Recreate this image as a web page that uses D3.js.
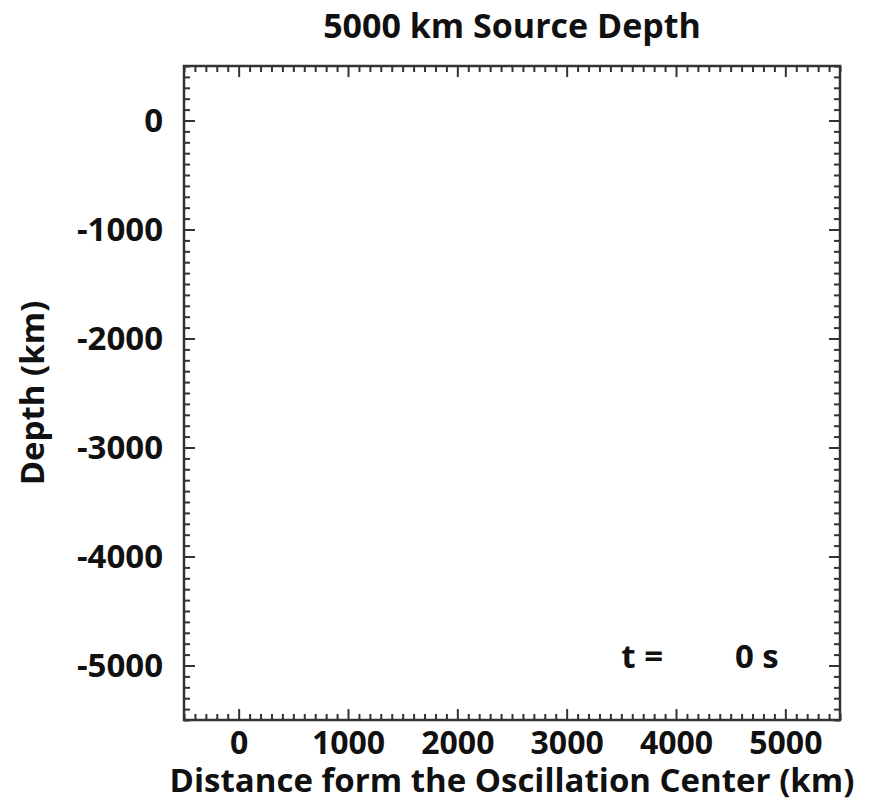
<!DOCTYPE html>
<html lang="en">
<head>
    <meta charset="UTF-8">
    <title>5000 km Source Depth</title>
    <style>
        body { margin: 0; background: #fff; }
        svg text { font-family: "Open Sans", "Noto Sans", sans-serif; font-weight: bold; fill: #111; }
        .axis path { display: none; }
        .axis line { stroke: #333; stroke-width: 2; }
    </style>
</head>
<body>

<script src="https://d3js.org/d3.v7.min.js"></script>
<script>
    // axis settings
    var xDomain = [-500, 5500],
        yDomain = [-5500, 500];
    var xMajor = [0, 1000, 2000, 3000, 4000, 5000];
    var yMajor = [0, -1000, -2000, -3000, -4000, -5000];
    var minorStep = 100;

    var titleText = '5000 km Source Depth',
        xLabel = 'Distance form the Oscillation Center (km)',
        yLabel = 'Depth (km)',
        timeLabel = 't =',
        timeValue = '0 s';

    var W = 872, H = 802;
    var margin = {top: 66, right: 32, bottom: 82, left: 184},
        width = W - margin.left - margin.right,
        height = H - margin.top - margin.bottom;

    var x = d3.scaleLinear().domain(xDomain).range([0, width]);
    var y = d3.scaleLinear().domain(yDomain).range([height, 0]);

    var xMinor = d3.range(xDomain[0], xDomain[1] + 1, minorStep).filter(function(d) { return xMajor.indexOf(d) < 0; });
    var yMinor = d3.range(yDomain[0], yDomain[1] + 1, minorStep).filter(function(d) { return yMajor.indexOf(d) < 0; });

    // plain hyphen for negatives, like the original
    var fmt = function(d) { return String(d); };

    var svg = d3.select('body')
                .append('svg')
                .attr('width', W)
                .attr('height', H)
              .append('g')
                .attr('transform', `translate(${margin.left}, ${margin.top})`);

    var major = 11, minor = 6;

    // bottom + top
    svg.append('g').attr('class', 'axis')
        .attr('transform', `translate(0, ${height})`)
        .call(d3.axisBottom(x).tickValues(xMajor).tickSize(-major).tickPadding(11).tickFormat(fmt))
        .selectAll('text').style('font-size', '32px');
    svg.append('g').attr('class', 'axis')
        .attr('transform', `translate(0, ${height})`)
        .call(d3.axisBottom(x).tickValues(xMinor).tickSize(-minor).tickFormat(''));
    svg.append('g').attr('class', 'axis')
        .call(d3.axisTop(x).tickValues(xMajor).tickSize(-major).tickFormat(''));
    svg.append('g').attr('class', 'axis')
        .call(d3.axisTop(x).tickValues(xMinor).tickSize(-minor).tickFormat(''));

    // left + right
    svg.append('g').attr('class', 'axis')
        .call(d3.axisLeft(y).tickValues(yMajor).tickSize(-major).tickPadding(21).tickFormat(fmt))
        .selectAll('text').style('font-size', '33px');
    svg.append('g').attr('class', 'axis')
        .call(d3.axisLeft(y).tickValues(yMinor).tickSize(-minor).tickFormat(''));
    svg.append('g').attr('class', 'axis')
        .attr('transform', `translate(${width}, 0)`)
        .call(d3.axisRight(y).tickValues(yMajor).tickSize(-major).tickFormat(''));
    svg.append('g').attr('class', 'axis')
        .attr('transform', `translate(${width}, 0)`)
        .call(d3.axisRight(y).tickValues(yMinor).tickSize(-minor).tickFormat(''));

    // frame
    svg.append('rect')
        .attr('width', width)
        .attr('height', height)
        .attr('fill', 'none')
        .attr('stroke', '#333')
        .attr('stroke-width', 2.5);

    svg.append('text')
        .attr('x', width / 2)
        .attr('y', -28)
        .attr('text-anchor', 'middle')
        .style('font-size', '34px')
        .text(titleText);

    svg.append('text')
        .attr('x', width / 2)
        .attr('y', height + 72)
        .attr('text-anchor', 'middle')
        .style('font-size', '33px')
        .text(xLabel);

    svg.append('text')
        .attr('transform', `translate(${-140}, ${height / 2}) rotate(-90)`)
        .attr('text-anchor', 'middle')
        .style('font-size', '33px')
        .text(yLabel);

    // time stamp
    svg.append('text')
        .attr('x', x(3500))
        .attr('y', y(-5000) + 2)
        .style('font-size', '33px')
        .text(timeLabel);
    svg.append('text')
        .attr('x', x(4940))
        .attr('y', y(-5000) + 2)
        .attr('text-anchor', 'end')
        .style('font-size', '33px')
        .text(timeValue);
</script>
</body>
</html>
